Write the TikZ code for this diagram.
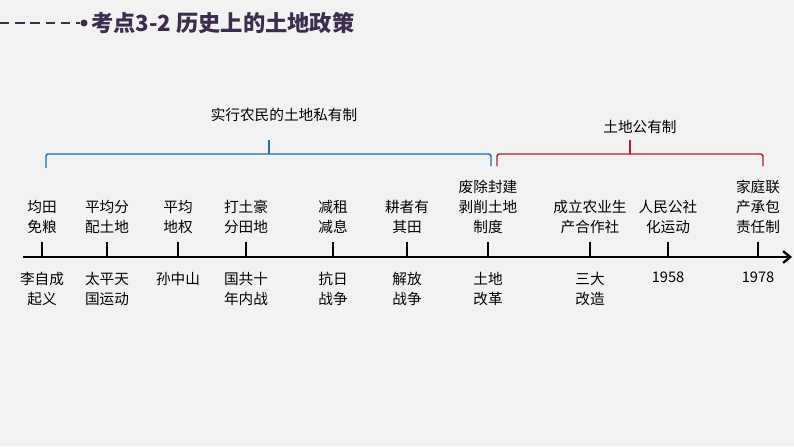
\documentclass[tikz,border=0pt]{standalone}
\usepackage{fontspec}
\newfontfamily\cjk{Noto Sans CJK SC}
\usetikzlibrary{arrows.meta}
\definecolor{titlepurple}{RGB}{60,45,78}
\definecolor{bracketblue}{RGB}{30,110,180}
\definecolor{bracketred}{RGB}{180,30,40}
\tikzset{
  event/.style={font=\cjk\fontsize{12.5}{17}\selectfont, align=center, anchor=south},
  cause/.style={font=\cjk\fontsize{12.5}{17}\selectfont, align=center, anchor=north},
  brace/.style={line width=1.2pt, rounded corners=2pt},
  tick/.style={line width=2pt}
}
\begin{document}
\begin{tikzpicture}[x=0.03cm, y=-0.03cm]
    \fill[black!5] (0,0) rectangle (794,446);
    \useasboundingbox (0,0) rectangle (794,446);
    % title
    \draw[titlepurple, line width=2pt, dash pattern=on 8pt off 5pt] (0,23) -- (80,23);
    \fill[titlepurple] (84,23) circle (3.5);
    \node[anchor=west, titlepurple, font=\cjk\bfseries\fontsize{19}{22}\selectfont] (title) at (87,23) {考点3-2 历史上的土地政策};
    % axis
    \coordinate (start) at (23,257);
    \coordinate (end) at (792,257);
    \draw[line width=2pt, -{Straight Barb[length=6pt,width=10pt]}] (start) -- (end);
    % ticks and labels
    \foreach \x/\up/\down [count=\i] in {
        42/{均田\\免粮}/{李自成\\起义},
        107/{平均分\\配土地}/{太平天\\国运动},
        178/{平均\\地权}/{孙中山},
        246/{打土豪\\分田地}/{国共十\\年内战},
        333/{减租\\减息}/{抗日\\战争},
        407/{耕者有\\其田}/{解放\\战争},
        488/{废除封建\\剥削土地\\制度}/{土地\\改革},
        590/{成立农业生\\产合作社}/{三大\\改造},
        668/{人民公社\\化运动}/{1958},
        758/{家庭联\\产承包\\责任制}/{1978}}{
        \draw[tick] (\x,242) coordinate (t\i) -- (\x,257);
        \node[event] (up\i) at (\x,238) {\up};
        \node[cause] (down\i) at (\x,268) {\down};
    }
    % brackets
    \draw[brace, bracketblue] (46,168) -- (46,154) -- (491,154) -- (491,166);
    \draw[brace, bracketblue] (269,154) -- (269,140);
    \node[font=\cjk\fontsize{12.5}{15}\selectfont] (private) at (284,115) {实行农民的土地私有制};
    \draw[brace, bracketred] (497,166) -- (497,154) -- (763,154) -- (763,166);
    \draw[brace, bracketred] (630,154) -- (630,140);
    \node[font=\cjk\fontsize{12.5}{15}\selectfont] (public) at (640,127) {土地公有制};
\end{tikzpicture}
\end{document}
